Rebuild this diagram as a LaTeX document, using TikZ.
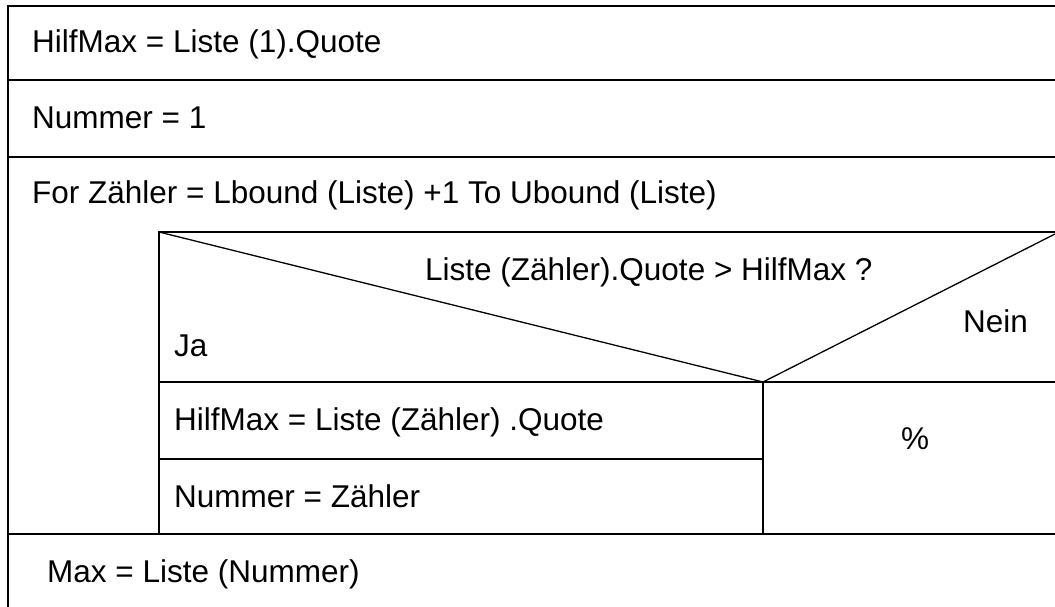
\documentclass[tikz,border=0pt]{standalone}
\usepackage{fontspec}
\setmainfont{Liberation Sans}
\begin{document}
\begin{tikzpicture}[x=1pt,y=-1pt,
  ln/.style={line width=1.6pt,black},
  thin/.style={line width=1.3pt,black},
  lbl/.style={inner sep=0pt,anchor=base west,font=\fontsize{31.5}{36}\selectfont}]
\useasboundingbox (0,0) rectangle (1055,607);
% outer frame
\draw[ln] (1055,6) -- (8,6) -- (8,607);
\draw[ln] (8,80) -- (1055,80);
\draw[ln] (8,157) -- (1055,157);
\draw[ln] (159,534) -- (159,232) -- (1055,232);
\draw[ln] (8,534) -- (1055,534);
% decision
\coordinate (v) at (763,382);
\draw[thin] (159,232) -- (v) -- (1055,234);
\draw[thin] (159,382) -- (1055,382);
\draw[thin] (v) -- (763,534);
\draw[thin] (159,459) -- (763,459);
% texts
\node[lbl] (t1) at (32,53) {HilfMax = Liste (1).Quote};
\node[lbl] (t2) at (32,129) {Nummer = 1};
\node[lbl] (t3) at (32,204) {For Zähler = Lbound (Liste) +1 To Ubound (Liste)};
\node[lbl] (q) at (425,280) {Liste (Zähler).Quote > HilfMax ?};
\node[lbl] (ja) at (174,356) {Ja};
\node[lbl] (nein) at (963,332) {Nein};
\node[lbl] (a1) at (174,430) {HilfMax = Liste (Zähler) .Quote};
\node[lbl] (pc) at (901,449) {\%};
\node[lbl] (a2) at (174,507) {Nummer = Zähler};
\node[lbl] (t4) at (47,582) {Max = Liste (Nummer)};
\end{tikzpicture}
\end{document}
